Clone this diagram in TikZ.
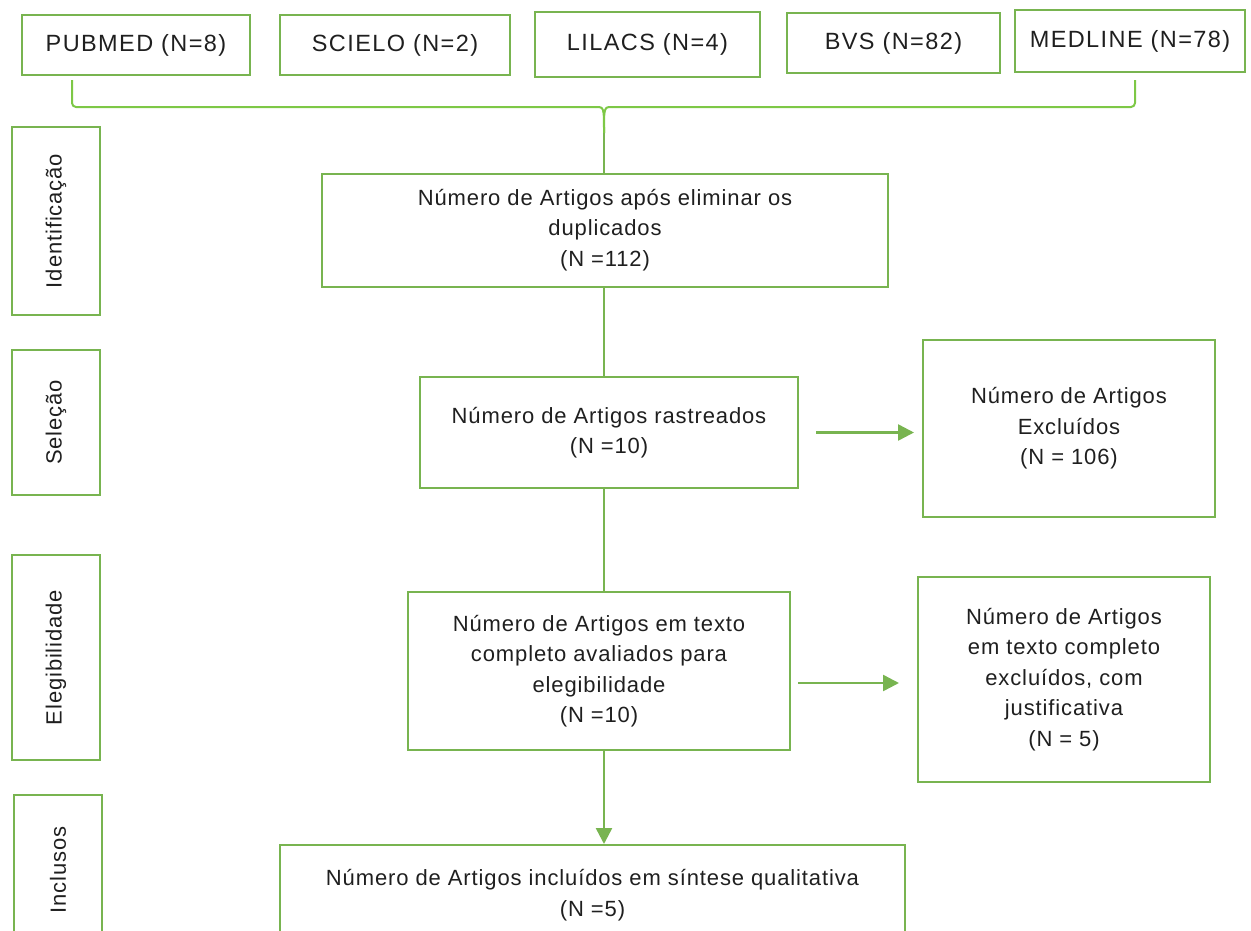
\documentclass[tikz,border=0pt]{standalone}
\usepackage{fontspec}
\setmainfont{Liberation Sans}
\usetikzlibrary{arrows.meta,calc}
\definecolor{gr}{RGB}{120,180,80}
\definecolor{brc}{RGB}{125,200,70}
\begin{document}
\begin{tikzpicture}[x=1pt,y=-1pt,
  box/.style={draw=gr,line width=2pt,align=center,inner sep=0pt,text=black!88,
    font=\fontsize{22}{30.5}\selectfont\addfontfeature{LetterSpace=4}},
  srcbox/.style={box,font=\fontsize{23.5}{30}\selectfont\addfontfeature{LetterSpace=6}},
  lbl/.style={box,rotate=90},
  conn/.style={draw=gr,line width=2.5pt},
  brace/.style={draw=brc,line width=2pt},
  arr/.style={conn,-{Triangle[length=16pt,width=16pt]}}]
\useasboundingbox (0,0) rectangle (1251,930);
\begin{scope}
\clip (0,0) rectangle (1251,930);
% sources
\node[srcbox,minimum width=228,minimum height=60] (pub) at (136,45) {PUBMED (N=8)};
\node[srcbox,minimum width=230,minimum height=60] (sci) at (395,45) {SCIELO (N=2)};
\node[srcbox,minimum width=225,minimum height=65] (lil) at (647.5,44.5) {LILACS (N=4)};
\node[srcbox,minimum width=213,minimum height=60] (bvs) at (893.5,43) {BVS (N=82)};
\node[srcbox,minimum width=230,minimum height=62] (med) at (1130,41) {MEDLINE (N=78)};
% stage labels
\node[lbl,minimum width=188,minimum height=88] (id) at (56,221) {Identificação};
\node[lbl,minimum width=145,minimum height=88] (sel) at (56,422.5) {Seleção};
\node[lbl,minimum width=205,minimum height=88] (ele) at (56,657.5) {Elegibilidade};
\node[lbl,minimum width=150,minimum height=88] (inc) at (58,870) {Inclusos};
% main boxes
\node[box,minimum width=566,minimum height=113] (b1) at (605,230) {Número de Artigos após eliminar os\\duplicados\\(N =112)};
\node[box,minimum width=378,minimum height=111] (b2) at (609,432.5) {Número de Artigos rastreados\\(N =10)};
\node[box,minimum width=292,minimum height=177] (b3) at (1069,428.5) {Número de Artigos\\Excluídos\\(N = 106)};
\node[box,minimum width=382,minimum height=158] (b4) at (599,671) {Número de Artigos em texto\\completo avaliados para\\elegibilidade\\(N =10)};
\node[box,minimum width=292,minimum height=205] (b5) at (1064,679.5) {Número de Artigos\\em texto completo\\excluídos, com\\justificativa\\(N = 5)};
\node[box,minimum width=625,minimum height=100] (b6) at (592.5,895) {Número de Artigos incluídos em síntese qualitativa\\(N =5)};
% brace
\coordinate (bl) at (72,80);
\coordinate (br) at (1135,80);
\coordinate (bm) at (604,133);
\draw[brace,rounded corners=4pt] (bl) -- (72,107) -- (596,107);
\draw[brace,rounded corners=4pt] (br) -- (1135,107) -- (612,107);
\draw[brace] (596,107) .. controls (604,107) .. (bm);
\draw[brace] (612,107) .. controls (604,107) .. (bm);
\draw[conn] (bm) -- (bm |- b1.north);
% connectors
\draw[conn] (bm |- b1.south) -- (bm |- b2.north);
\draw[conn] (bm |- b2.south) -- (bm |- b4.north);
\draw[arr] (bm |- b4.south) -- (bm |- b6.north);
\draw[arr] ($(b2.east)+(17,0)$) -- ($(b3.west |- b2.east)+(-8,0)$);
\draw[arr] ($(b4.east)+(7,12)$) -- ($(b5.west |- b4.east)+(-18,12)$);
\end{scope}
\end{tikzpicture}
\end{document}
